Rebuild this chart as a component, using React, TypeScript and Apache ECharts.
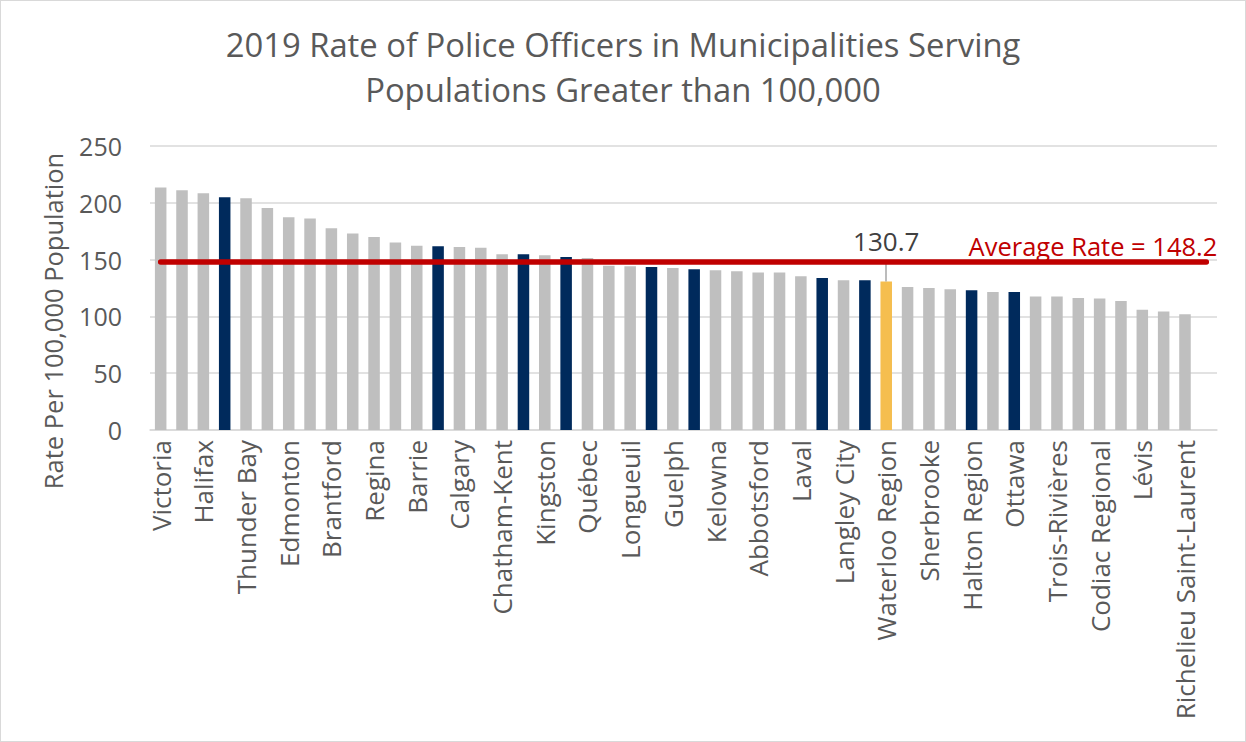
import React, { useEffect, useRef } from "react";
import * as echarts from "echarts";

const titleText =
  "2019 Rate of Police Officers in Municipalities Serving\nPopulations Greater than 100,000";
const yAxisName = "Rate Per 100,000 Population";

// 50 category slots; only every other municipality is labelled in the source chart.
const categories: string[] = [
  "Victoria", "", "Halifax", "", "Thunder Bay", "", "Edmonton", "", "Brantford", "",
  "Regina", "", "Barrie", "", "Calgary", "", "Chatham-Kent", "", "Kingston", "",
  "Québec", "", "Longueuil", "", "Guelph", "", "Kelowna", "", "Abbotsford", "",
  "Laval", "", "Langley City", "", "Waterloo Region", "", "Sherbrooke", "", "Halton Region", "",
  "Ottawa", "", "Trois-Rivières", "", "Codiac Regional", "", "Lévis", "", "Richelieu Saint-Laurent", "",
];

const rates: (number | null)[] = [
  213.4, 211.1, 208.4, 204.9, 204.0, 195.5, 187.3, 186.2, 177.7, 173.0,
  170.0, 165.1, 162.1, 161.8, 161.2, 160.4, 154.8, 154.8, 153.9, 152.2,
  151.3, 144.5, 144.2, 143.4, 142.5, 141.6, 140.7, 139.8, 138.7, 138.7,
  135.4, 133.7, 131.9, 131.9, 130.7, 125.8, 124.9, 124.0, 123.1, 121.4,
  121.4, 117.6, 117.6, 116.1, 115.8, 113.5, 105.8, 104.3, 102.0, null,
];

const comparatorIdx: number[] = [3, 13, 17, 19, 23, 25, 31, 33, 38, 40];
const featuredIdx = 34;
const averageRate = 148.2;
const yTicks = { min: 0, max: 250, interval: 50 };

const GRAY = "#BFBFBF";
const NAVY = "#002A5C";
const GOLD = "#F5BE4F";
const RED = "#C00000";
const TEXT = "#595959";
const GRID = "#D9D9D9";
const FONT = "Open Sans";

export default function App() {
  const ref = useRef<HTMLDivElement>(null);

  useEffect(() => {
    document.body.style.margin = "0";
    if (!ref.current) return;
    const chart = echarts.init(ref.current, undefined, { renderer: "svg" });

    const barData = rates.map((v, i) => {
      const color = i === featuredIdx ? GOLD : comparatorIdx.includes(i) ? NAVY : GRAY;
      const item: any = { value: v, itemStyle: { color } };
      if (i === featuredIdx) {
        item.label = {
          show: true,
          position: "top",
          distance: 28,
          fontSize: 26,
          fontFamily: FONT,
          color: "#404040",
          formatter: (p: any) => p.value.toFixed(1),
        };
      }
      return item;
    });

    chart.setOption({
      animation: false,
      textStyle: { fontFamily: FONT },
      title: {
        text: titleText,
        left: "center",
        top: 16,
        textStyle: {
          fontFamily: FONT,
          fontSize: 32.8,
          fontWeight: "normal",
          color: TEXT,
          lineHeight: 45,
        },
      },
      grid: { left: 149, right: 28, top: 145, bottom: 311, containLabel: false },
      xAxis: {
        type: "category",
        data: categories,
        axisTick: { show: false },
        axisLine: { lineStyle: { color: GRID, width: 1.5 } },
        axisLabel: {
          interval: 1,
          rotate: 90,
          fontSize: 26,
          fontFamily: FONT,
          color: TEXT,
          margin: 10,
        },
      },
      yAxis: {
        type: "value",
        min: yTicks.min,
        max: yTicks.max,
        interval: yTicks.interval,
        name: yAxisName,
        nameLocation: "middle",
        nameRotate: 90,
        nameGap: 84,
        nameTextStyle: {
          fontSize: 25.5,
          fontFamily: FONT,
          color: TEXT,
          padding: [0, 66, 0, 0],
        },
        axisLine: { show: false },
        axisTick: { show: false },
        splitLine: { lineStyle: { color: GRID, width: 1.5 } },
        axisLabel: { fontSize: 25, fontFamily: FONT, color: TEXT, margin: 28 },
      },
      series: [
        {
          type: "bar",
          data: barData,
          barCategoryGap: "46%",
          markLine: {
            symbol: "none",
            silent: true,
            animation: false,
            data: [
              [
                {
                  coord: [featuredIdx, rates[featuredIdx]],
                  lineStyle: { color: "#A6A6A6", width: 1.5, type: "solid" },
                  label: { show: false },
                },
                { coord: [featuredIdx, averageRate] },
              ],
              [
                {
                  coord: [0, averageRate],
                  lineStyle: { color: RED, width: 5.5, type: "solid", cap: "round" },
                  label: {
                    show: true,
                    position: "insideEndTop",
                    distance: [-11, 3],
                    formatter: () => `Average Rate = ${averageRate}`,
                    fontSize: 25.5,
                    fontFamily: FONT,
                    color: RED,
                  },
                },
                { coord: [categories.length - 1, averageRate] },
              ],
            ],
          },
        },
      ],
    });

    return () => chart.dispose();
  }, []);

  return (
    <div
      style={{
        width: 1246,
        height: 742,
        border: "1px solid #D9D9D9",
        boxSizing: "border-box",
        background: "#fff",
      }}
    >
      <div ref={ref} style={{ width: 1244, height: 740 }} />
    </div>
  );
}
